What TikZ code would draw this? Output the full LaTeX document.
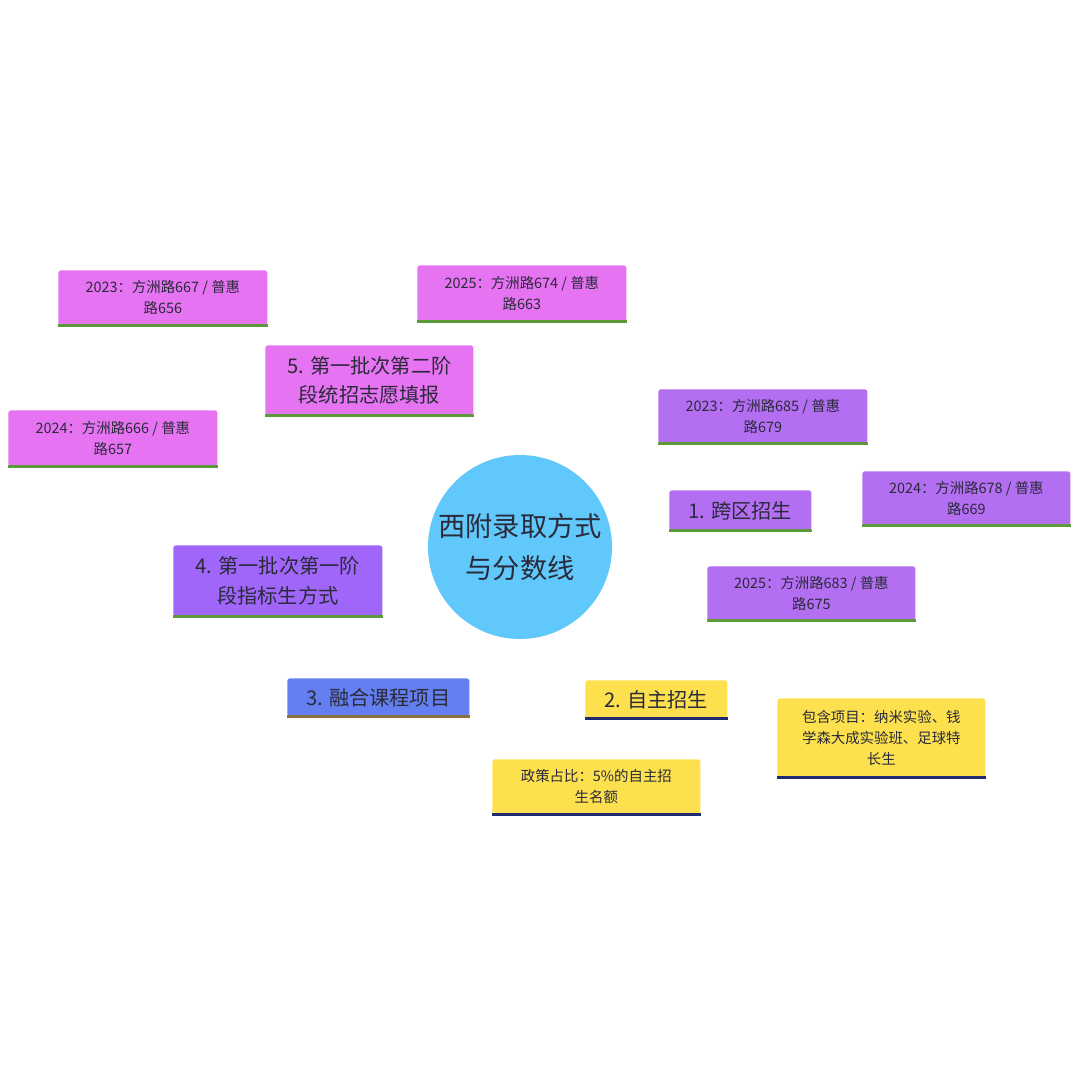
\documentclass[tikz,border=0pt]{standalone}
\usepackage{fontspec}
\setmainfont{Noto Sans CJK SC}
\usetikzlibrary{backgrounds}
\definecolor{cpur}{HTML}{B36EF2}
\definecolor{cpink}{HTML}{E673F2}
\definecolor{cvio}{HTML}{A066FA}
\definecolor{cblue}{HTML}{6480F0}
\definecolor{cyel}{HTML}{FCE04E}
\definecolor{ccen}{HTML}{60C8FA}
\definecolor{ugreen}{HTML}{5A9A3A}
\definecolor{unavy}{HTML}{202A70}
\definecolor{ubrown}{HTML}{8A7040}
\definecolor{tx}{HTML}{2A2A3A}
\tikzset{
  box/.style={rounded corners=1.5pt, inner sep=0pt, align=center, text=tx, anchor=north west},
  leaf/.style={box, font=\fontsize{8.2}{12}\selectfont},
  main/.style={box, font=\fontsize{11.5}{17}\selectfont},
  ul/.style={line width=1.5pt},
  br/.style={line width=5.5pt},
  sb/.style={line width=3pt}
}
\begin{document}
\begin{tikzpicture}[x=0.02cm,y=-0.02cm]
\fill[white] (0,0) rectangle (1080,1080);
\useasboundingbox (0,0) rectangle (1080,1080);
% center
\node[circle, fill=ccen, minimum size=184*0.02cm, inner sep=0pt, align=center, text=tx, font=\fontsize{15.5}{24}\selectfont] (c) at (520,547) {西附录取方式\\与分数线};
% level 1
\node[main, fill=cpur, minimum width=142*0.02cm, minimum height=40*0.02cm] (n1) at (669,490) {1. 跨区招生};
\node[main, fill=cyel, minimum width=142*0.02cm, minimum height=38*0.02cm] (n2) at (585,680) {2. 自主招生};
\node[main, fill=cblue, minimum width=182*0.02cm, minimum height=38*0.02cm] (n3) at (287,678) {3. 融合课程项目};
\node[main, fill=cvio, minimum width=209*0.02cm, minimum height=71*0.02cm] (n4) at (173,545) {4. 第一批次第一阶\\段指标生方式};
\node[main, fill=cpink, minimum width=208*0.02cm, minimum height=70*0.02cm] (n5) at (265,345) {5. 第一批次第二阶\\段统招志愿填报};
% leaves
\node[leaf, fill=cpur, minimum width=209*0.02cm, minimum height=54*0.02cm] (a1) at (658,389) {2023：方洲路685 / 普惠\\路679};
\node[leaf, fill=cpur, minimum width=208*0.02cm, minimum height=54*0.02cm] (a2) at (862,471) {2024：方洲路678 / 普惠\\路669};
\node[leaf, fill=cpur, minimum width=208*0.02cm, minimum height=54*0.02cm] (a3) at (707,566) {2025：方洲路683 / 普惠\\路675};
\node[leaf, fill=cyel, minimum width=208*0.02cm, minimum height=79*0.02cm] (b1) at (777,698) {包含项目：纳米实验、钱\\学森大成实验班、足球特\\长生};
\node[leaf, fill=cyel, minimum width=208*0.02cm, minimum height=55*0.02cm] (b2) at (492,759) {政策占比：5\%的自主招\\生名额};
\node[leaf, fill=cpink, minimum width=209*0.02cm, minimum height=55*0.02cm] (e1) at (58,270) {2023：方洲路667 / 普惠\\路656};
\node[leaf, fill=cpink, minimum width=209*0.02cm, minimum height=56*0.02cm] (e2) at (417,265) {2025：方洲路674 / 普惠\\路663};
\node[leaf, fill=cpink, minimum width=209*0.02cm, minimum height=56*0.02cm] (e3) at (8,410) {2024：方洲路666 / 普惠\\路657};
% underlines
\foreach \n in {n1,n5,n4,a1,a2,a3,e1,e2,e3} \draw[ul,ugreen] (\n.south west)--(\n.south east);
\foreach \n in {n2,b1,b2} \draw[ul,unavy] (\n.south west)--(\n.south east);
\draw[ul,ubrown] (n3.south west)--(n3.south east);
\begin{scope}[on background layer]
\draw[br,cpur] (c) -- (n1.west);
\draw[br,cyel] (c) -- (n2);
\draw[br,cblue] (c) -- (n3);
\draw[br,cvio] (c) -- (n4);
\draw[br,cpink] (c) -- (n5);
\draw[sb,cpur] (n1) -- (a1);
\draw[sb,cpur] (n1) -- (a2);
\draw[sb,cpur] (n1) -- (a3);
\draw[sb,cyel] (n2) -- (b1);
\draw[sb,cyel] (n2) -- (b2);
\draw[sb,cpink] (n5) -- (e1);
\draw[sb,cpink] (n5) -- (e2);
\draw[sb,cpink] (n5) -- (e3);
\end{scope}
\end{tikzpicture}
\end{document}
